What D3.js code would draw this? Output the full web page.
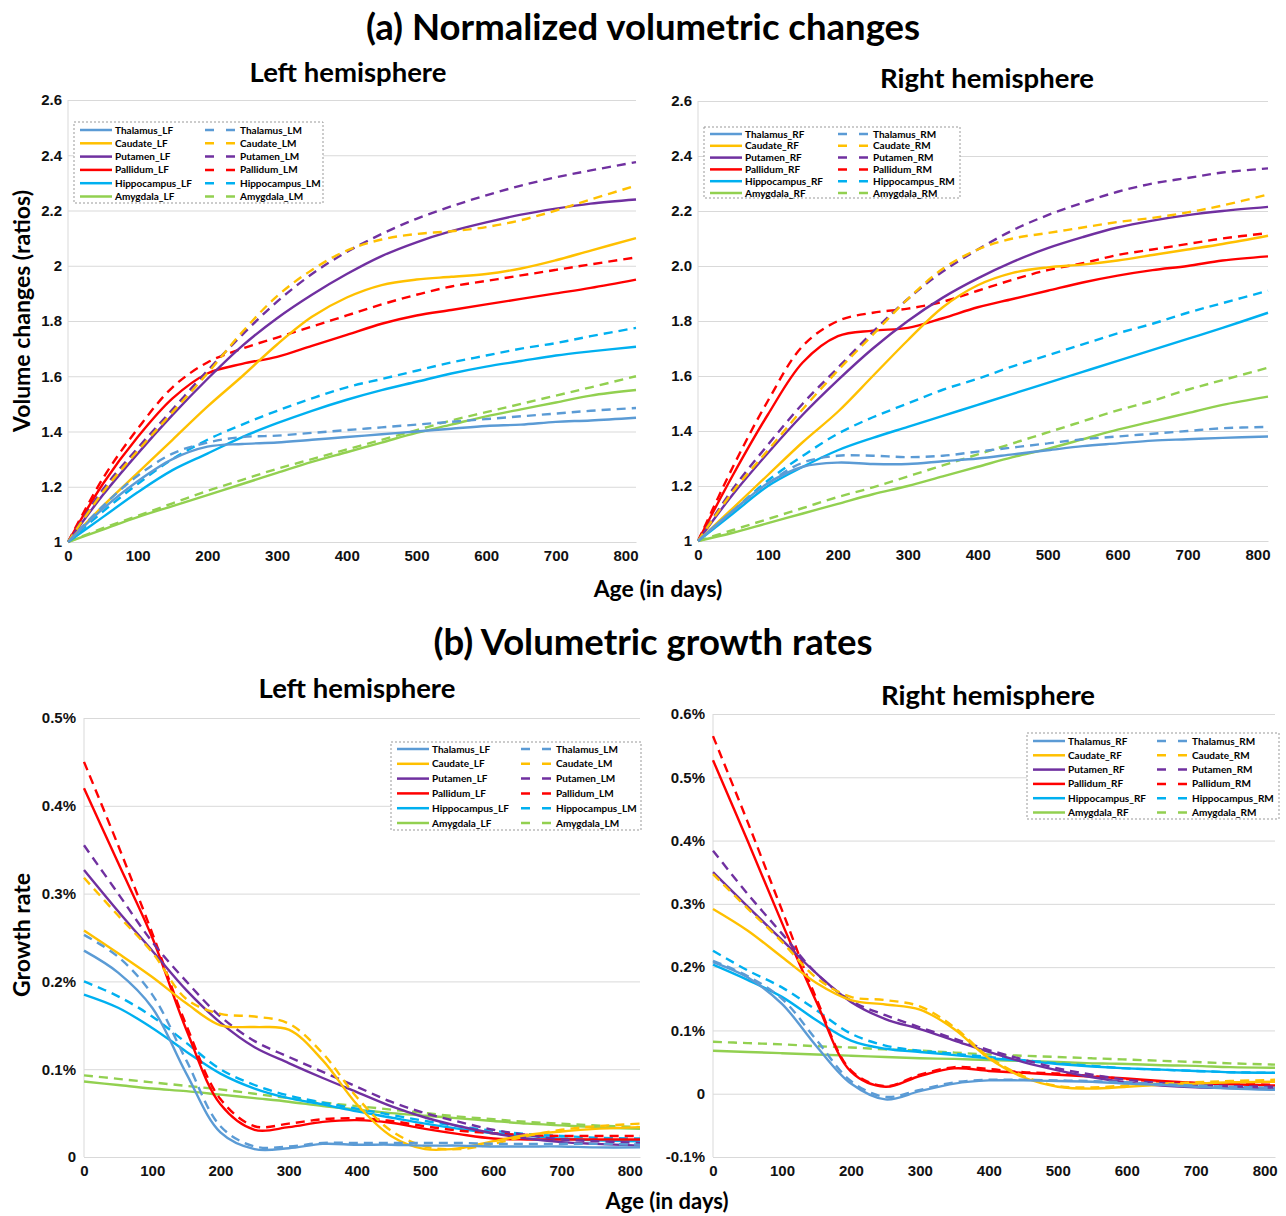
<!DOCTYPE html>
<html>
<head>
<meta charset="utf-8">
<script src="https://cdn.jsdelivr.net/npm/d3@7"></script>
<style>
  body { margin: 0; background: #fff; }
  svg { font-family: Lato, "Open Sans", sans-serif; }
</style>
</head>
<body>
<div class="d3Chart"></div>
<script>
// age in days where curves were read
var ages = [0, 50, 100, 150, 200, 250, 300, 350, 400, 450, 500, 550, 600, 650, 700, 750, 815];
var structures = ["Thalamus", "Caudate", "Putamen", "Pallidum", "Hippocampus", "Amygdala"];
var bColor = ["#5B9BD5", "#FFC000", "#7030A0", "#FF0000", "#00B0F0", "#92D050"];

// (a) volume ratios, left hemisphere, female (solid) / male (dashed)
var volLeftF = [
  [1, 1.12, 1.22, 1.30, 1.345, 1.355, 1.36, 1.37, 1.38, 1.39, 1.40, 1.41, 1.42, 1.425, 1.435, 1.44, 1.45],
  [1, 1.13, 1.25, 1.37, 1.49, 1.60, 1.715, 1.815, 1.885, 1.93, 1.95, 1.96, 1.97, 1.99, 2.02, 2.055, 2.10],
  [1, 1.17, 1.32, 1.46, 1.59, 1.71, 1.81, 1.895, 1.97, 2.035, 2.085, 2.125, 2.157, 2.185, 2.207, 2.225, 2.24],
  [1, 1.21, 1.38, 1.52, 1.61, 1.645, 1.67, 1.71, 1.75, 1.79, 1.82, 1.84, 1.86, 1.88, 1.90, 1.92, 1.95],
  [1, 1.09, 1.18, 1.26, 1.32, 1.38, 1.43, 1.475, 1.515, 1.55, 1.58, 1.61, 1.635, 1.655, 1.675, 1.69, 1.707],
  [1, 1.045, 1.09, 1.13, 1.17, 1.21, 1.25, 1.29, 1.325, 1.36, 1.395, 1.425, 1.455, 1.48, 1.505, 1.53, 1.55]
];
var volLeftM = [
  [1, 1.13, 1.24, 1.32, 1.36, 1.38, 1.385, 1.395, 1.405, 1.415, 1.425, 1.435, 1.445, 1.455, 1.465, 1.475, 1.485],
  [1, 1.18, 1.33, 1.47, 1.61, 1.76, 1.89, 1.985, 2.055, 2.095, 2.115, 2.125, 2.14, 2.165, 2.20, 2.24, 2.29],
  [1, 1.19, 1.34, 1.48, 1.62, 1.75, 1.87, 1.97, 2.05, 2.115, 2.17, 2.215, 2.255, 2.29, 2.32, 2.345, 2.375],
  [1, 1.23, 1.41, 1.56, 1.65, 1.70, 1.74, 1.78, 1.82, 1.86, 1.895, 1.925, 1.945, 1.965, 1.985, 2.005, 2.03],
  [1, 1.11, 1.21, 1.30, 1.37, 1.425, 1.475, 1.52, 1.56, 1.59, 1.62, 1.65, 1.675, 1.70, 1.72, 1.745, 1.775],
  [1, 1.05, 1.095, 1.14, 1.185, 1.225, 1.265, 1.30, 1.335, 1.37, 1.405, 1.44, 1.47, 1.50, 1.53, 1.56, 1.60]
];
// (a) volume ratios, right hemisphere
var volRightF = [
  [1, 1.11, 1.21, 1.27, 1.285, 1.28, 1.28, 1.29, 1.30, 1.315, 1.33, 1.345, 1.355, 1.365, 1.37, 1.375, 1.38],
  [1, 1.12, 1.24, 1.36, 1.47, 1.60, 1.73, 1.85, 1.93, 1.975, 1.995, 2.005, 2.02, 2.04, 2.06, 2.08, 2.11],
  [1, 1.17, 1.32, 1.46, 1.585, 1.70, 1.80, 1.885, 1.955, 2.015, 2.065, 2.105, 2.14, 2.165, 2.185, 2.20, 2.215],
  [1, 1.24, 1.46, 1.65, 1.745, 1.765, 1.775, 1.81, 1.85, 1.88, 1.91, 1.94, 1.965, 1.985, 2.00, 2.02, 2.035],
  [1, 1.10, 1.20, 1.27, 1.33, 1.375, 1.415, 1.455, 1.495, 1.535, 1.575, 1.615, 1.655, 1.695, 1.735, 1.775, 1.83],
  [1, 1.03, 1.065, 1.10, 1.135, 1.17, 1.20, 1.235, 1.27, 1.305, 1.335, 1.37, 1.405, 1.435, 1.465, 1.495, 1.525]
];
var volRightM = [
  [1, 1.11, 1.21, 1.285, 1.31, 1.31, 1.305, 1.31, 1.325, 1.34, 1.355, 1.37, 1.38, 1.39, 1.40, 1.41, 1.415],
  [1, 1.18, 1.33, 1.48, 1.62, 1.75, 1.88, 1.99, 2.06, 2.10, 2.12, 2.14, 2.16, 2.175, 2.195, 2.22, 2.26],
  [1, 1.19, 1.35, 1.50, 1.63, 1.76, 1.88, 1.98, 2.06, 2.13, 2.185, 2.23, 2.27, 2.30, 2.32, 2.34, 2.355],
  [1, 1.27, 1.51, 1.71, 1.80, 1.83, 1.845, 1.87, 1.91, 1.95, 1.985, 2.01, 2.04, 2.06, 2.08, 2.10, 2.12],
  [1, 1.11, 1.22, 1.31, 1.39, 1.45, 1.50, 1.55, 1.59, 1.635, 1.675, 1.715, 1.755, 1.79, 1.83, 1.865, 1.91],
  [1, 1.04, 1.08, 1.12, 1.16, 1.195, 1.235, 1.275, 1.315, 1.355, 1.395, 1.435, 1.475, 1.51, 1.55, 1.585, 1.63]
];

// (b) growth rates in %, left hemisphere
var rateLeftF = [
  [0.235, 0.21, 0.17, 0.095, 0.028, 0.009, 0.010, 0.015, 0.014, 0.014, 0.013, 0.013, 0.012, 0.012, 0.012, 0.011, 0.011],
  [0.258, 0.232, 0.205, 0.175, 0.150, 0.148, 0.145, 0.110, 0.060, 0.024, 0.009, 0.010, 0.018, 0.025, 0.029, 0.032, 0.034],
  [0.327, 0.28, 0.235, 0.19, 0.153, 0.125, 0.107, 0.090, 0.074, 0.058, 0.045, 0.035, 0.027, 0.021, 0.017, 0.015, 0.013],
  [0.42, 0.335, 0.25, 0.145, 0.06, 0.031, 0.034, 0.040, 0.042, 0.039, 0.032, 0.026, 0.021, 0.020, 0.020, 0.020, 0.020],
  [0.185, 0.17, 0.147, 0.12, 0.095, 0.078, 0.067, 0.060, 0.052, 0.045, 0.038, 0.032, 0.027, 0.024, 0.021, 0.019, 0.018],
  [0.086, 0.082, 0.078, 0.075, 0.071, 0.067, 0.063, 0.058, 0.054, 0.050, 0.047, 0.044, 0.041, 0.038, 0.036, 0.034, 0.032]
];
var rateLeftM = [
  [0.253, 0.228, 0.185, 0.11, 0.035, 0.012, 0.012, 0.016, 0.016, 0.016, 0.016, 0.016, 0.015, 0.015, 0.015, 0.015, 0.014],
  [0.318, 0.275, 0.233, 0.18, 0.163, 0.160, 0.152, 0.118, 0.068, 0.030, 0.012, 0.009, 0.015, 0.024, 0.031, 0.035, 0.038],
  [0.355, 0.30, 0.245, 0.20, 0.16, 0.132, 0.114, 0.097, 0.080, 0.063, 0.050, 0.040, 0.031, 0.025, 0.020, 0.018, 0.016],
  [0.45, 0.355, 0.255, 0.15, 0.066, 0.035, 0.038, 0.043, 0.044, 0.041, 0.035, 0.030, 0.027, 0.025, 0.024, 0.024, 0.024],
  [0.20, 0.183, 0.16, 0.13, 0.10, 0.082, 0.070, 0.062, 0.055, 0.048, 0.041, 0.035, 0.030, 0.026, 0.024, 0.022, 0.021],
  [0.093, 0.089, 0.085, 0.081, 0.077, 0.072, 0.067, 0.062, 0.058, 0.054, 0.050, 0.046, 0.043, 0.040, 0.038, 0.036, 0.034]
];
// (b) growth rates in %, right hemisphere
var rateRightF = [
  [0.208, 0.184, 0.142, 0.075, 0.016, -0.009, 0.004, 0.016, 0.021, 0.021, 0.020, 0.019, 0.016, 0.014, 0.011, 0.008, 0.006],
  [0.292, 0.258, 0.216, 0.175, 0.148, 0.141, 0.133, 0.102, 0.056, 0.026, 0.011, 0.008, 0.011, 0.014, 0.016, 0.018, 0.019],
  [0.35, 0.296, 0.243, 0.19, 0.145, 0.118, 0.102, 0.084, 0.066, 0.050, 0.037, 0.026, 0.018, 0.013, 0.010, 0.009, 0.008],
  [0.527, 0.40, 0.27, 0.145, 0.035, 0.011, 0.028, 0.040, 0.036, 0.033, 0.030, 0.027, 0.024, 0.020, 0.017, 0.015, 0.013],
  [0.204, 0.18, 0.153, 0.116, 0.084, 0.071, 0.066, 0.061, 0.056, 0.052, 0.047, 0.043, 0.040, 0.038, 0.036, 0.034, 0.033],
  [0.068, 0.066, 0.064, 0.062, 0.060, 0.058, 0.056, 0.055, 0.053, 0.052, 0.050, 0.048, 0.047, 0.045, 0.044, 0.042, 0.041]
];
var rateRightM = [
  [0.21, 0.186, 0.15, 0.085, 0.02, -0.005, 0.006, 0.018, 0.022, 0.022, 0.021, 0.020, 0.018, 0.015, 0.013, 0.011, 0.009],
  [0.347, 0.293, 0.24, 0.183, 0.153, 0.148, 0.138, 0.105, 0.058, 0.028, 0.012, 0.010, 0.013, 0.016, 0.018, 0.020, 0.022],
  [0.384, 0.316, 0.253, 0.19, 0.147, 0.124, 0.105, 0.087, 0.069, 0.054, 0.040, 0.030, 0.022, 0.017, 0.014, 0.012, 0.011],
  [0.565, 0.43, 0.29, 0.15, 0.037, 0.012, 0.030, 0.042, 0.039, 0.034, 0.032, 0.028, 0.023, 0.019, 0.017, 0.016, 0.014],
  [0.226, 0.195, 0.168, 0.132, 0.095, 0.076, 0.068, 0.063, 0.058, 0.053, 0.048, 0.044, 0.040, 0.038, 0.036, 0.034, 0.033],
  [0.082, 0.080, 0.078, 0.075, 0.073, 0.070, 0.068, 0.065, 0.062, 0.060, 0.058, 0.056, 0.054, 0.052, 0.050, 0.048, 0.046]
];

// tick labels
var xTicks = [0, 100, 200, 300, 400, 500, 600, 700, 800];
var volTicks = [1, 1.2, 1.4, 1.6, 1.8, 2, 2.2, 2.4, 2.6];
var volLabelsL = ["1", "1.2", "1.4", "1.6", "1.8", "2", "2.2", "2.4", "2.6"];
var volLabelsR = ["1", "1.2", "1.4", "1.6", "1.8", "2.0", "2.2", "2.4", "2.6"];
var rateTicksL = [0, 0.1, 0.2, 0.3, 0.4, 0.5];
var rateLabelsL = ["0", "0.1%", "0.2%", "0.3%", "0.4%", "0.5%"];
var rateTicksR = [-0.1, 0, 0.1, 0.2, 0.3, 0.4, 0.5, 0.6];
var rateLabelsR = ["-0.1%", "0", "0.1%", "0.2%", "0.3%", "0.4%", "0.5%", "0.6%"];

var width = 1286, height = 1216;
var svg = d3.select(".d3Chart").append("svg")
  .attr("width", width).attr("height", height);

function drawPanel(p) {
  var xScale = d3.scaleLinear().domain([0, 815]).range([p.l, p.r]);
  var yScale = d3.scaleLinear().domain(p.yDomain).range([p.b, p.t]);

  // grid + y labels
  var yAxis = d3.axisLeft(yScale).tickValues(p.yTicks)
    .tickSize(-(p.r - p.l)).tickPadding(p.pad)
    .tickFormat(function (d, i) { return p.yLabels[i]; });
  var gy = svg.append("g").attr("transform", "translate(" + p.l + ",0)").call(yAxis);
  gy.select(".domain").remove();
  gy.selectAll("line").attr("stroke", "#d9d9d9");
  gy.selectAll("text").style("font-size", "15px").style("font-weight", "bold").attr("fill", "#111");

  svg.append("line").attr("x1", p.l).attr("x2", p.l).attr("y1", p.t).attr("y2", p.b)
    .attr("stroke", "#d9d9d9");

  var xAxis = d3.axisBottom(xScale).tickValues(xTicks).tickSize(0).tickPadding(8);
  var gx = svg.append("g").attr("transform", "translate(0," + p.b + ")").call(xAxis);
  gx.select(".domain").attr("stroke", "#d9d9d9");
  gx.selectAll("text").style("font-size", "15px").style("font-weight", "bold").attr("fill", "#111");

  var line = d3.line()
    .x(function (d, i) { return xScale(ages[i]); })
    .y(function (d) { return yScale(d); })
    .curve(d3.curveCatmullRom.alpha(0.5));

  var lines = svg.append("g").attr("fill", "none").attr("stroke-width", 2.4);
  // draw in reverse so Thalamus ends on top like the source
  for (var k = structures.length - 1; k >= 0; k--) {
    lines.append("path").attr("d", line(p.F[k])).attr("stroke", bColor[k]);
    lines.append("path").attr("d", line(p.M[k])).attr("stroke", bColor[k])
      .attr("stroke-dasharray", "9,6");
  }

  // legend
  var lg = p.lg;
  var leg = svg.append("g");
  leg.append("rect").attr("x", lg.x).attr("y", lg.y).attr("width", lg.w).attr("height", lg.h)
    .attr("fill", "#fff").attr("stroke", "#999").attr("stroke-dasharray", "2,2");
  structures.forEach(function (s, i) {
    var yy = lg.y + lg.first + i * lg.step;
    leg.append("line").attr("x1", lg.x + 6).attr("x2", lg.x + 38).attr("y1", yy).attr("y2", yy)
      .attr("stroke", bColor[i]).attr("stroke-width", 2.5);
    leg.append("text").attr("x", lg.x + 41).attr("y", yy).attr("dy", "0.35em")
      .style("font-size", lg.fs + "px").style("font-weight", "bold").text(s + "_" + p.side + "F");
    leg.append("line").attr("x1", lg.x + lg.col).attr("x2", lg.x + lg.col + 32).attr("y1", yy).attr("y2", yy)
      .attr("stroke", bColor[i]).attr("stroke-width", 2.5).attr("stroke-dasharray", "9,12");
    leg.append("text").attr("x", lg.x + lg.col + 35).attr("y", yy).attr("dy", "0.35em")
      .style("font-size", lg.fs + "px").style("font-weight", "bold").text(s + "_" + p.side + "M");
  });
}

drawPanel({ l: 68, r: 636, t: 100, b: 542, yDomain: [1, 2.6], yTicks: volTicks, yLabels: volLabelsL, pad: 6,
  F: volLeftF, M: volLeftM, side: "L",
  lg: { x: 74, y: 122, w: 249, h: 81, first: 8, step: 13.3, col: 131, fs: 10 } });
drawPanel({ l: 698, r: 1268, t: 101, b: 541, yDomain: [1, 2.6], yTicks: volTicks, yLabels: volLabelsR, pad: 6,
  F: volRightF, M: volRightM, side: "R",
  lg: { x: 704, y: 127, w: 256, h: 71, first: 7, step: 11.8, col: 134, fs: 10 } });
drawPanel({ l: 84, r: 640, t: 718, b: 1157, yDomain: [0, 0.5], yTicks: rateTicksL, yLabels: rateLabelsL, pad: 8,
  F: rateLeftF, M: rateLeftM, side: "L",
  lg: { x: 391, y: 742, w: 250, h: 88, first: 7, step: 14.8, col: 130, fs: 10 } });
drawPanel({ l: 713, r: 1275, t: 714, b: 1157, yDomain: [-0.1, 0.6], yTicks: rateTicksR, yLabels: rateLabelsR, pad: 8,
  F: rateRightF, M: rateRightM, side: "R",
  lg: { x: 1027, y: 733, w: 252, h: 86, first: 8, step: 14.3, col: 130, fs: 10 } });

// titles and axis labels
function label(txt, x, y, size, rot) {
  var t = svg.append("text").attr("text-anchor", "middle").style("font-weight", "bold")
    .style("font-size", size + "px").attr("fill", "#000").text(txt);
  if (rot) t.attr("transform", "translate(" + x + "," + y + ") rotate(-90)");
  else t.attr("x", x).attr("y", y);
}
label("(a) Normalized volumetric changes", 643, 40, 36.5);
label("Left hemisphere", 348, 82, 27.5);
label("Right hemisphere", 987, 88, 27.5);
label("(b) Volumetric growth rates", 653, 655, 36.5);
label("Left hemisphere", 357, 698, 27.5);
label("Right hemisphere", 988, 705, 27.5);
label("Volume changes (ratios)", 30, 311, 23, true);
label("Growth rate", 30, 935, 23, true);
label("Age (in days)", 658, 597, 23);
label("Age (in days)", 667, 1209, 22);
</script>
</body>
</html>
